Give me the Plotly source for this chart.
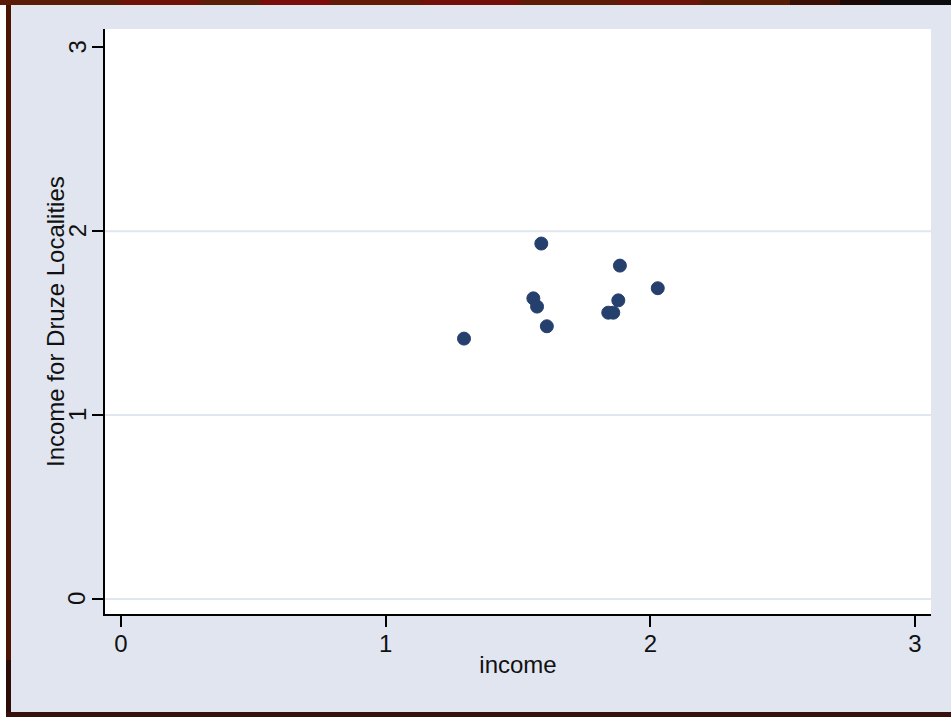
import plotly.graph_objects as go

# Locality income pairs: overall income vs. income for Druze localities
income = [1.296, 1.588, 1.885, 2.028, 1.558, 1.572, 1.879, 1.841, 1.860, 1.609]
druze_income = [1.416, 1.933, 1.813, 1.690, 1.635, 1.590, 1.624, 1.557, 1.557, 1.483]

tick_vals = [0, 1, 2, 3]
tick_text = ["0", "1", "2", "3"]
grid_vals = [0, 1, 2]

W, H = 951, 717
L, R, T, B = 105, 20, 29, 103
PW, PH = W - L - R, H - T - B

NAVY = "#26406e"
LAV = "#e0e5f0"
FONT = "Liberation Sans, Arial, Helvetica, sans-serif"


def px_x(p):
    return (p - L) / PW


def px_y(p):
    return (H - B - p) / PH


fig = go.Figure(
    go.Scatter(
        x=income,
        y=druze_income,
        mode="markers",
        marker=dict(size=13, color=NAVY, line=dict(width=1, color=NAVY)),
        showlegend=False,
        hoverinfo="x+y",
    )
)

shapes = []

# Horizontal grid lines
for g in grid_vals:
    shapes.append(dict(type="line", xref="paper", yref="y", x0=0, x1=1, y0=g, y1=g,
                       line=dict(color="#e1e5f0", width=2), layer="below"))


# Decorative outer frame around the graph region (kept outside the plot area)
def band(x0, y0, x1, y1, color):
    shapes.append(dict(type="rect", xref="paper", yref="paper",
                       x0=px_x(x0), x1=px_x(x1), y0=px_y(y1), y1=px_y(y0),
                       fillcolor=color, line=dict(width=0), layer="below"))


band(0, 0, 6, H, "#ffffff")
band(6, 5, 11, 660, "#4a1602")
band(6, 660, 11, 717, "#2c0c06")
band(6, 712, W, 717, "#36100a")
top_colors = [
    (0, 120, "#5a1c06"), (120, 200, "#6e1208"), (200, 260, "#5c1e06"),
    (260, 330, "#7a0c0a"), (330, 420, "#621a06"), (420, 520, "#730f09"),
    (520, 620, "#5e1c06"), (620, 700, "#6c1408"), (700, 790, "#561c04"),
    (790, 840, "#3a1004"), (840, 880, "#1c0804"), (880, 951, "#0c0c0c"),
]
for a, b, c in top_colors:
    band(a, 0, b, 5, c)

# Rotated y tick labels and y-axis title
annotations = [dict(
    text=t, textangle=-90, xref="paper", yref="y", x=px_x(77), y=v,
    xanchor="center", yanchor="middle", showarrow=False, font=dict(size=24),
) for v, t in zip(tick_vals, tick_text)]
annotations.append(dict(
    text="Income for Druze Localities", textangle=-90,
    xref="paper", yref="paper", x=px_x(55), y=px_y(322),
    xanchor="center", yanchor="middle", showarrow=False,
    font=dict(size=24),
))

fig.update_layout(
    width=W,
    height=H,
    margin=dict(l=L, r=R, t=T, b=B, pad=0),
    paper_bgcolor=LAV,
    plot_bgcolor="#ffffff",
    font=dict(family=FONT, size=24, color="#111111"),
    shapes=shapes,
    annotations=annotations,
    xaxis=dict(
        range=[-0.0604, 3.0604],
        tickvals=tick_vals,
        ticktext=tick_text,
        ticks="outside",
        ticklen=11,
        tickwidth=2,
        tickcolor="#000000",
        showline=True,
        linewidth=2,
        linecolor="#000000",
        showgrid=False,
        zeroline=False,
        ticklabelstandoff=-4,
        title=dict(text="income", standoff=0, font=dict(size=24)),
    ),
    yaxis=dict(
        range=[-0.082, 3.1],
        tickvals=tick_vals,
        showticklabels=False,
        ticks="outside",
        ticklen=11,
        tickwidth=2,
        tickcolor="#000000",
        showline=True,
        linewidth=2,
        linecolor="#000000",
        showgrid=False,
        zeroline=False,
    ),
)

fig.write_html("out.html")
